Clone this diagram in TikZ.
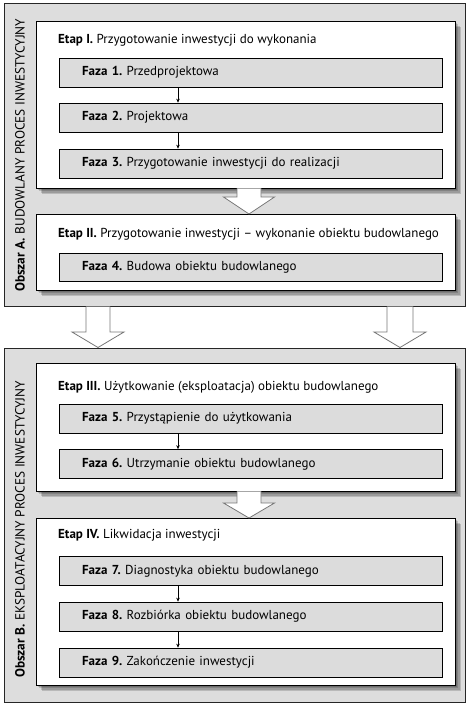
\documentclass[tikz,border=0pt]{standalone}
\usepackage{fontspec}
\setmainfont{PT Sans}
\usetikzlibrary{shadows,calc,arrows.meta}
\definecolor{bggray}{HTML}{DDDDDD}
\definecolor{fazagray}{HTML}{DCDCDC}
\definecolor{arrgray}{HTML}{777777}
\tikzset{
  softshadow/.style={general shadow={fill=black, opacity=.16, shadow xshift=#1, shadow yshift=-#1}},
  outerbox/.style={draw=black!85, line width=1pt, fill=bggray, rectangle, inner sep=0pt, minimum width=461pt},
  etapbox/.style={draw=black, line width=0.8pt, fill=white, rectangle, inner sep=0pt, minimum width=419pt,
    softshadow=1.5pt, softshadow=3pt, softshadow=4.5pt, softshadow=6pt},
  fazabox/.style={draw=black, line width=0.7pt, fill=fazagray, rectangle, inner xsep=23pt, inner ysep=0pt,
    text width=337pt, align=left, minimum height=29pt, font=\fontsize{13}{15}\selectfont},
  etaptitle/.style={inner sep=0pt, anchor=west, font=\fontsize{13}{15}\selectfont},
  sidelabel/.style={inner sep=0pt, anchor=west, rotate=90, font=\fontsize{13.3}{15}\selectfont},
  smallarr/.style={draw=black, line width=0.6pt, -{Stealth[length=4pt,width=3.5pt]}},
  bigarrow/.style={draw=arrgray, line width=0.8pt, fill=white},
}
\newcommand\bigarr[6]{% x, top, base, tip, half stem, half head
  \path[bigarrow] ({#1-#5},#2) -- ({#1-#5},#3) -- ({#1-#6},#3) -- (#1,#4) -- ({#1+#6},#3) -- ({#1+#5},#3) -- ({#1+#5},#2);
}
\frenchspacing
\begin{document}
\begin{tikzpicture}[x=1pt,y=-1pt]
\useasboundingbox[fill=white] (0,0) rectangle (472,705);
% outer areas
\node[outerbox, minimum height=303pt] (A) at (234.5,154.5) {};
\node[outerbox, minimum height=354pt] (B) at (234.5,525) {};
\node[sidelabel] (la) at (20,292) {\textbf{Obszar A.} BUDOWLANY PROCES INWESTYCYJNY};
\node[sidelabel] (lb) at (20,678) {\textbf{Obszar B.} EKSPLOATACYJNY PROCES INWESTYCYJNY};
% stages
\node[etapbox, minimum height=167pt] (e1) at (245.5,104.5) {};
\node[etapbox, minimum height=76pt] (e2) at (245.5,252) {};
\node[etapbox, minimum height=128pt] (e3) at (245.5,427) {};
\node[etapbox, minimum height=167pt] (e4) at (245.5,601.5) {};
\node[etaptitle] (t1) at (58,40) {\textbf{Etap I.} Przygotowanie inwestycji do wykonania};
\node[etaptitle] (t2) at (58,234) {\textbf{Etap II.} Przygotowanie inwestycji – wykonanie obiektu budowlanego};
\node[etaptitle] (t3) at (58,387) {\textbf{Etap III.} Użytkowanie (eksploatacja) obiektu budowlanego};
\node[etaptitle] (t4) at (58,535) {\textbf{Etap IV.} Likwidacja inwestycji};
% phases
\node[fazabox] (f1) at (250.5,72.5) {\textbf{Faza 1.} Przedprojektowa};
\node[fazabox] (f2) at (250.5,117.5) {\textbf{Faza 2.} Projektowa};
\node[fazabox] (f3) at (250.5,163.5) {\textbf{Faza 3.} Przygotowanie inwestycji do realizacji};
\node[fazabox, minimum height=28pt] (f4) at (250.5,267) {\textbf{Faza 4.} Budowa obiektu budowlanego};
\node[fazabox] (f5) at (250.5,418.5) {\textbf{Faza 5.} Przystąpienie do użytkowania};
\node[fazabox] (f6) at (250.5,464) {\textbf{Faza 6.} Utrzymanie obiektu budowlanego};
\node[fazabox] (f7) at (250.5,571) {\textbf{Faza 7.} Diagnostyka obiektu budowlanego};
\node[fazabox] (f8) at (250.5,616.5) {\textbf{Faza 8.} Rozbiórka obiektu budowlanego};
\node[fazabox] (f9) at (250.5,662.5) {\textbf{Faza 9.} Zakończenie inwestycji};
% small arrows
\draw[smallarr] ([xshift=-72.5pt]f1.south) -- ([xshift=-72.5pt]f2.north);
\draw[smallarr] ([xshift=-72.5pt]f2.south) -- ([xshift=-72.5pt]f3.north);
\draw[smallarr] ([xshift=-72.5pt]f5.south) -- ([xshift=-72.5pt]f6.north);
\draw[smallarr] ([xshift=-72.5pt]f7.south) -- ([xshift=-72.5pt]f8.north);
\draw[smallarr] ([xshift=-72.5pt]f8.south) -- ([xshift=-72.5pt]f9.north);
% big arrows
\bigarr{249}{188.4}{197}{214}{12}{25.5}
\bigarr{249}{491.4}{503}{518}{12}{25.5}
\bigarr{98}{306.5}{332}{347.5}{12}{26}
\bigarr{400}{306.5}{332}{347.5}{13}{26}
\end{tikzpicture}
\end{document}
